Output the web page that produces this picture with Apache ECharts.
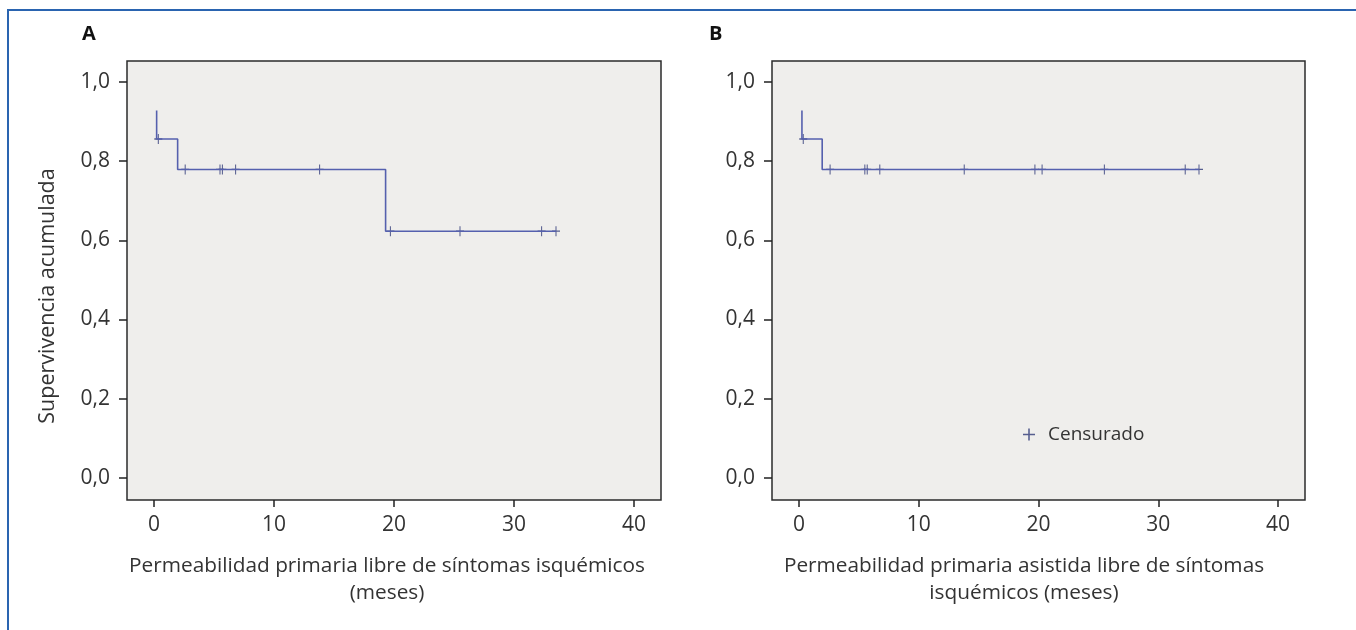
<!DOCTYPE html>
<html>
<head>
<meta charset="utf-8">
<script src="https://cdn.jsdelivr.net/npm/echarts@6/dist/echarts.min.js"></script>
<style>html,body{margin:0;padding:0;background:#fff}#main{width:1356px;height:630px}</style>
</head>
<body>
<div id="main"></div>
<script>
// tick values
var yTicks = [0, 0.2, 0.4, 0.6, 0.8, 1.0];
var xTicks = [0, 10, 20, 30, 40];

// panel A: Kaplan-Meier step points (months, survival)
var stepTimesA = [0.22, 0.22, 1.97, 19.3, 33.5];
var stepSurvA  = [0.928, 0.856, 0.779, 0.623, 0.623];
var censorTimesA = [0.36, 2.6, 5.5, 5.7, 6.8, 13.8, 19.7, 25.5, 32.3, 33.5];

// panel B
var stepTimesB = [0.25, 0.25, 1.94, 33.4];
var stepSurvB  = [0.928, 0.856, 0.779, 0.779];
var censorTimesB = [0.36, 2.6, 5.5, 5.7, 6.75, 13.8, 19.7, 20.3, 25.5, 32.25, 33.4];

var FONT = 'Open Sans';
var lineColor = '#5560ae';
var censorColor = '#2f3a78';
var crossPath = 'path://M4.35,0H5.65V10H4.35Z M0,4.35H10V5.65H0Z';

function survAt(times, surv, t) {
    var s = surv[0];
    for (var i = 0; i < times.length; i++) {
        if (times[i] <= t) s = surv[i];
    }
    return s;
}
function zip(a, b) {
    return a.map(function (v, i) { return [v, b[i]]; });
}
function censorPoints(ct, times, surv) {
    return ct.map(function (t) { return [t, survAt(times, surv, t)]; });
}

function xAx(idx) {
    return {
        gridIndex: idx, type: 'value', min: -2.25, max: 42.25,
        axisLine: {show: false, onZero: false},
        axisTick: {show: true, length: 7, customValues: xTicks, lineStyle: {color: '#222', width: 1.5}},
        axisLabel: {customValues: xTicks, margin: 15, color: '#333', fontSize: 21, fontFamily: FONT},
        splitLine: {show: false}
    };
}
function yAx(idx) {
    return {
        gridIndex: idx, type: 'value', min: -0.056, max: 1.053,
        axisLine: {show: false, onZero: false},
        axisTick: {show: true, length: 8, customValues: yTicks, lineStyle: {color: '#222', width: 1.5}},
        axisLabel: {customValues: yTicks, margin: 17, color: '#333', fontSize: 21, fontFamily: FONT,
            formatter: function (v) { return v.toFixed(1).replace('.', ','); }},
        splitLine: {show: false}
    };
}

var myChart = echarts.init(document.getElementById('main'));
var option = {
    animation: false,
    grid: [
        {left: 127, top: 61, width: 534, height: 439, show: true, backgroundColor: '#efeeec', borderColor: '#2b2b2b', borderWidth: 1.5},
        {left: 772, top: 61, width: 533, height: 439, show: true, backgroundColor: '#efeeec', borderColor: '#2b2b2b', borderWidth: 1.5}
    ],
    xAxis: [xAx(0), xAx(1)],
    yAxis: [yAx(0), yAx(1)],
    legend: {
        data: ['Censurado'], left: 1018, top: 420, itemWidth: 12, itemHeight: 13,
        selectedMode: false,
        textStyle: {fontFamily: FONT, fontSize: 19, color: '#333', padding: [0, 0, 0, 8]}
    },
    series: [
        {type: 'line', xAxisIndex: 0, yAxisIndex: 0, step: 'end', showSymbol: false,
            data: zip(stepTimesA, stepSurvA), lineStyle: {color: lineColor, width: 1.6}},
        {name: 'Censurado', type: 'scatter', xAxisIndex: 0, yAxisIndex: 0, symbol: crossPath, symbolSize: [8, 10],
            itemStyle: {color: censorColor}, data: censorPoints(censorTimesA, stepTimesA, stepSurvA)},
        {type: 'line', xAxisIndex: 1, yAxisIndex: 1, step: 'end', showSymbol: false,
            data: zip(stepTimesB, stepSurvB), lineStyle: {color: lineColor, width: 1.6}},
        {name: 'Censurado', type: 'scatter', xAxisIndex: 1, yAxisIndex: 1, symbol: crossPath, symbolSize: [8, 10],
            itemStyle: {color: censorColor}, data: censorPoints(censorTimesB, stepTimesB, stepSurvB)}
    ],
    graphic: [
        {type: 'polyline', shape: {points: [[8, 630], [8, 10], [1356, 10]]}, style: {stroke: '#2a64b0', lineWidth: 2, fill: null}},
        {type: 'text', left: 82, top: 24, style: {text: 'A', font: 'bold 20px "Open Sans"', fill: '#111'}},
        {type: 'text', left: 709, top: 24, style: {text: 'B', font: 'bold 20px "Open Sans"', fill: '#111'}},
        {type: 'text', x: 48, y: 296, rotation: Math.PI / 2,
            style: {text: 'Supervivencia acumulada', font: '21.5px "Open Sans"', fill: '#333', align: 'center', verticalAlign: 'middle'}},
        {type: 'text', x: 387, y: 553,
            style: {text: 'Permeabilidad primaria libre de síntomas isquémicos\n(meses)', font: '20.8px "Open Sans"', lineHeight: 27, fill: '#333', align: 'center'}},
        {type: 'text', x: 1024, y: 553,
            style: {text: 'Permeabilidad primaria asistida libre de síntomas\nisquémicos (meses)', font: '20.8px "Open Sans"', lineHeight: 27, fill: '#333', align: 'center'}}
    ]
};
myChart.setOption(option);
</script>
</body>
</html>
